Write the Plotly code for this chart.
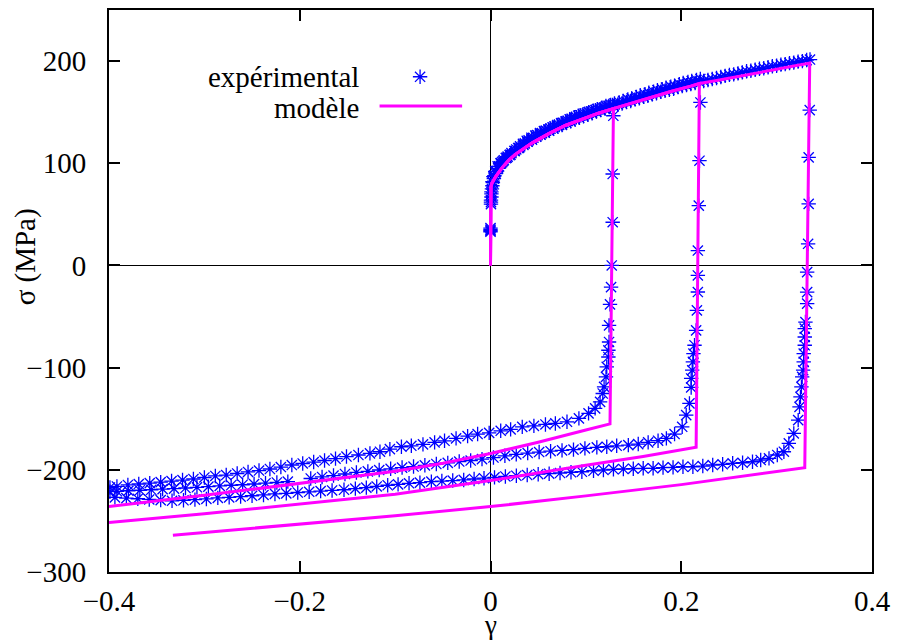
import plotly.graph_objects as go

# ---------------- experimental data (three tests) ----------------
exp1_gamma = [0, 0, 0.0005, 0.001, 0.0015, 0.0025, 0.004, 0.006, 0.009, 0.012, 0.016, 0.020, 0.025, 0.029,
              0.034, 0.038, 0.043, 0.047, 0.052, 0.056, 0.061, 0.065, 0.070, 0.074, 0.079, 0.083, 0.088,
              0.092, 0.097, 0.101, 0.106, 0.110, 0.115, 0.119, 0.124, 0.128,
              0.1288, 0.1281, 0.1281, 0.1271, 0.1264, 0.1253, 0.1243, 0.1243, 0.1236, 0.1236, 0.1219,
              0.1211, 0.1191, 0.1177, 0.1149, 0.1097, 0.1028, 0.0927, 0.0802, 0.068, 0.0576, 0.0455,
              0.0333, 0.0211, 0.0107, -0.0014, -0.0135, -0.024, -0.0361, -0.0482, -0.0586, -0.0708,
              -0.083, -0.0934, -0.1055, -0.1159, -0.1264, -0.1385, -0.151, -0.1625, -0.174, -0.1854,
              -0.1969, -0.2083, -0.2198, -0.2313, -0.2427, -0.2542, -0.2656, -0.2771, -0.2885, -0.3,
              -0.3115, -0.3229, -0.3344, -0.3458, -0.3573, -0.3688, -0.3802, -0.3917, -0.399]
exp1_sigma = [33, 36.5, 62, 67, 75, 81, 88, 92, 97, 101, 105, 108, 112, 115,
              119, 122, 125, 127, 129.5, 131.5, 133, 135, 137.5, 139, 141, 143, 145,
              146.5, 148, 149, 150.5, 152, 153, 154.5, 156, 157,
              146.5, 89.5, 42.3, 0, -21.2, -38.1, -58.6, -74.9, -83, -89.6, -99.3,
              -109.1, -118.8, -125.3, -133.5, -139.9, -144.8, -149.7, -153, -154.6, -155.6, -157,
              -158, -160.4, -161.8, -163.8, -165, -167, -169.2, -171.6, -173.1, -175.1,
              -176.5, -177.4, -179.7, -182.3, -183.9, -185.5, -187, -189, -190.9, -192.4,
              -193.8, -195.3, -197.3, -199.2, -200.7, -202.1, -203.6, -205.1, -206, -207.5,
              -209, -210, -211, -212, -213, -213.9, -214.8, -216.3, -217.3]

exp2_gamma = [0, 0.0005, 0.001, 0.002, 0.0035, 0.0055, 0.008, 0.011,
              0.014, 0.018, 0.022, 0.027, 0.031, 0.036, 0.040, 0.045, 0.049, 0.054,
              0.058, 0.063, 0.067, 0.072, 0.076, 0.081, 0.085, 0.090, 0.094, 0.099,
              0.103, 0.108, 0.112, 0.117, 0.121, 0.126, 0.130, 0.135, 0.139, 0.144,
              0.148, 0.153, 0.157, 0.162, 0.166, 0.171, 0.175, 0.180, 0.184, 0.189,
              0.193, 0.198, 0.202, 0.207, 0.211, 0.216, 0.220,
              0.2201, 0.2191, 0.2184, 0.2174, 0.2174, 0.2174, 0.2164, 0.2156, 0.2139, 0.2128,
              0.2122, 0.2115, 0.2104, 0.2104, 0.2086, 0.2052, 0.201, 0.193, 0.1844, 0.1757,
              0.1653, 0.1549, 0.1445, 0.1323, 0.1219, 0.1115, 0.099, 0.087, 0.075, 0.063,
              0.051, 0.039, 0.027, 0.0151, 0.0031, -0.0089, -0.0208, -0.0328, -0.0448, -0.0568,
              -0.0688, -0.0807, -0.0927, -0.1047, -0.1167, -0.1286, -0.1406, -0.1526, -0.1646,
              -0.1766, -0.1885, -0.2125, -0.224, -0.2359, -0.2479, -0.2599, -0.2719, -0.2839,
              -0.2958, -0.3078, -0.3198, -0.3318, -0.3438, -0.3557, -0.3677, -0.3797, -0.3917,
              -0.399]
exp2_sigma = [34, 60, 70, 78, 85, 90, 95, 100,
              103, 106.5, 110, 113.5, 116.5, 119.5, 122.5, 125, 127.5, 129.5,
              132, 134, 136, 137.5, 139.5, 141.5, 143.5, 145, 147, 148.5,
              150, 151.5, 153, 154.5, 156, 157, 158.5, 159.5, 161, 162.5,
              163.5, 165, 166.5, 167.5, 169, 170, 171.5, 172.5, 174, 175,
              176, 177.5, 178.5, 179.5, 180.5, 181.5, 182.5,
              159.5, 102.5, 58.6, 14.6, -9.8, -26, -44, -63.5, -78.1, -86.2,
              -94.4, -102.5, -110.6, -119.4, -135, -146.5, -157.9, -165, -169.2, -171.5,
              -173.1, -174.8, -175.8, -176.5, -177.4, -178, -179, -180.2, -181, -181.8,
              -182.6, -183.6, -184.9, -186.3, -188, -189.5, -190.9, -191.9, -193.2, -194.3,
              -195.6, -196.8, -197.8, -199, -200.2, -201.5, -202.6, -204.1, -205.6,
              -207, -208.5, -211.6, -212.4, -213.1, -213.9, -214.6, -215.1, -215.8,
              -216.5, -217.1, -217.8, -218.4, -218.9, -219.5, -220, -220.5, -221,
              -221.4]

exp3_gamma = [0, 0.0005, 0.001, 0.002, 0.003, 0.005, 0.0075, 0.0105,
              0.013, 0.017, 0.021, 0.0255, 0.030, 0.0345, 0.039, 0.0435, 0.048, 0.0525,
              0.057, 0.0615, 0.066, 0.0705, 0.075, 0.0795, 0.084, 0.0885, 0.093, 0.0975,
              0.102, 0.1065, 0.111, 0.1155, 0.120, 0.1245, 0.129, 0.1335, 0.138, 0.1425,
              0.147, 0.1515, 0.156, 0.1605, 0.165, 0.1695, 0.174, 0.1785, 0.183, 0.1875,
              0.192, 0.1965, 0.201, 0.2055, 0.210, 0.2145, 0.219, 0.2235, 0.228, 0.2325,
              0.237, 0.2415, 0.246, 0.2505, 0.255, 0.2595, 0.264, 0.2685, 0.273, 0.2775,
              0.282, 0.2865, 0.291, 0.2955, 0.300, 0.3045, 0.309, 0.3135, 0.318, 0.3225,
              0.327, 0.3315, 0.335,
              0.3347, 0.3336, 0.3336, 0.333, 0.332, 0.332, 0.332, 0.3302, 0.3295, 0.3295,
              0.3295, 0.3284, 0.3284, 0.3278, 0.3268, 0.326, 0.325, 0.324, 0.3226, 0.318,
              0.3128, 0.3076, 0.3007, 0.292, 0.2833, 0.2747, 0.2643, 0.2539, 0.2434, 0.233,
              0.2226, 0.2122, 0.2018, 0.1914, 0.1809, 0.1705, 0.1601, 0.1497, 0.1393, 0.1289,
              0.1184, 0.108, 0.0958, 0.0844, 0.0729, 0.0615, 0.05, 0.0385, 0.0271, 0.0156,
              0.0042, -0.0068, -0.0172, -0.0281, -0.0396, -0.051, -0.062, -0.074, -0.0854,
              -0.0969, -0.1078, -0.1193, -0.1302, -0.1417, -0.1536, -0.1661, -0.1781, -0.1901,
              -0.2021, -0.2141, -0.226, -0.238, -0.25, -0.262, -0.274, -0.2859, -0.2979,
              -0.3099, -0.3219, -0.3339, -0.3458, -0.3578, -0.3698, -0.3818, -0.3938]
exp3_sigma = [35, 64, 72, 82, 87, 92, 97, 100,
              102, 105.5, 108.5, 112, 115, 118, 121, 123, 126, 128,
              130, 132, 134, 136, 137.5, 139.5, 141, 143, 144.5, 146,
              147.5, 149, 150.5, 152, 153.5, 155, 156, 157.5, 158.5, 160,
              161, 162.5, 163.5, 165, 166, 167.5, 168.5, 170, 171, 172,
              173, 174.5, 175.5, 176.5, 177.5, 178.5, 179.5, 180.5, 181.5, 182.5,
              183.5, 184.5, 185.5, 186.5, 187, 188, 189, 190, 190.5, 191.5,
              192.5, 193, 194, 195, 195.5, 196.5, 197, 198, 198.5, 199.5,
              200, 201, 201.5,
              152, 105.8, 60.3, 21.2, -6.5, -26.1, -37.4, -55.4, -61.8, -70,
              -78.1, -86.2, -94.4, -102.5, -109.1, -118.8, -128.6, -138.4, -151.4, -164.4,
              -174.1, -182.3, -185.5, -188.8, -190.4, -192.1, -193.1, -193.6, -194.6, -195.3,
              -196.3, -197, -197, -197.6, -197.9, -198.5, -198.5, -198.9, -199.2, -199.5,
              -200.2, -200.9, -201.9, -202.4, -203.1, -203.8, -204.3, -205.1, -205.8, -206.5,
              -207.4, -208.2, -209, -209.9, -210.5, -211, -211.6, -212.5, -213.2,
              -214.2, -215.1, -216.3, -217.4, -218.4, -219.5, -220.2, -220.9, -221.5,
              -222.2, -223, -223.6, -224.6, -225.4, -226.2, -227, -227.5, -228.5,
              -229.2, -229.8, -230.3, -229.7, -229, -228.3, -227.7, -227]

# ---------------- model curves (one per test) ----------------
model1_gamma = [0, 0, 0.0005, 0.0015, 0.003, 0.0055, 0.009, 0.0125, 0.019, 0.0264, 0.0438, 0.0611,
                0.0784, 0.0958, 0.1132, 0.1289,
                0.1253, 0.1, 0.05, 0, -0.05, -0.1, -0.15, -0.2, -0.3, -0.4]
model1_sigma = [0, 72, 77, 80.5, 83.5, 87, 91.5, 96, 103, 109, 120, 129,
                137, 143, 149, 153.5,
                -155, -161, -173, -184, -193.5, -201.5, -207.5, -213, -225, -236]

model2_gamma = [0, 0, 0.0005, 0.0015, 0.003, 0.0055, 0.009, 0.0125, 0.019, 0.0264, 0.0438, 0.0611,
                0.0784, 0.0958, 0.1132, 0.1305, 0.15, 0.17, 0.19, 0.21, 0.219,
                0.2156, 0.16, 0.1, 0.05, 0, -0.1, -0.2, -0.3, -0.4]
model2_sigma = [0, 72, 77, 80.5, 83.5, 87, 91.5, 96, 103, 109, 120, 129,
                137, 143, 149, 154, 159.5, 165, 170.5, 175.5, 178,
                -178, -187, -195.5, -203, -210.5, -224, -233.5, -243, -251.5]

model3_gamma = [0, 0, 0.0005, 0.0015, 0.003, 0.0055, 0.009, 0.0125, 0.019, 0.0264, 0.0438, 0.0611,
                0.0784, 0.0958, 0.1132, 0.1305, 0.15, 0.17, 0.19, 0.21, 0.219, 0.24, 0.26, 0.28,
                0.30, 0.32, 0.3347,
                0.3295, 0.24, 0.2, 0.1, 0, -0.1, -0.2, -0.333]
model3_sigma = [0, 72, 77, 80.5, 83.5, 87, 91.5, 96, 103, 109, 120, 129,
                137, 143, 149, 154, 159.5, 165, 170.5, 175.5, 178, 181.5, 185, 188.5,
                192, 195.5, 198,
                -198, -209.5, -214.5, -225.5, -236, -245, -253, -264]

x_ticks = [-0.4, -0.2, 0, 0.2, 0.4]
y_ticks = [-300, -200, -100, 0, 100, 200]

FONT = "Liberation Serif"
BLUE = "#0000ff"
MAGENTA = "#ff00ff"

fig = go.Figure()

exp_x = exp1_gamma + exp2_gamma + exp3_gamma
exp_y = exp1_sigma + exp2_sigma + exp3_sigma
star = dict(symbol="asterisk-open", size=12, color=BLUE, line=dict(color=BLUE, width=1.3))

fig.add_trace(go.Scatter(
    x=exp_x, y=exp_y, mode="markers", name="expérimental",
    marker=star, showlegend=False, hoverinfo="skip"))

mod_x = model1_gamma + [None] + model2_gamma + [None] + model3_gamma
mod_y = model1_sigma + [None] + model2_sigma + [None] + model3_sigma
fig.add_trace(go.Scatter(
    x=mod_x, y=mod_y, mode="lines", name="modèle",
    line=dict(color=MAGENTA, width=3), connectgaps=False,
    showlegend=False, hoverinfo="skip"))

# key samples drawn in an overlaid unit-square axis
fig.add_trace(go.Scatter(
    x=[0.4077], y=[0.8812], mode="markers", xaxis="x2", yaxis="y2",
    marker=star, showlegend=False, hoverinfo="skip"))
fig.add_trace(go.Scatter(
    x=[0.3546, 0.4628], y=[0.8293, 0.8293], mode="lines", xaxis="x2", yaxis="y2",
    line=dict(color=MAGENTA, width=3), showlegend=False, hoverinfo="skip"))

axis_common = dict(
    showgrid=False, showline=True, linecolor="black", linewidth=2,
    mirror="ticks", ticks="inside", ticklen=11, tickwidth=1.5, tickcolor="black",
    zeroline=True, zerolinecolor="black", zerolinewidth=1,
    tickfont=dict(family=FONT, size=29, color="black"),
)

fig.update_layout(
    width=899, height=644,
    margin=dict(l=109, r=23, t=8, b=72),
    paper_bgcolor="white", plot_bgcolor="white",
    showlegend=False,
    font=dict(family=FONT, color="black"),
    xaxis=dict(range=[-0.4, 0.4], tickvals=x_ticks, ticklabelstandoff=2, **axis_common),
    yaxis=dict(range=[-300, 250], tickvals=y_ticks, ticklabelstandoff=15, **axis_common),
    xaxis2=dict(overlaying="x", anchor="y2", range=[0, 1], visible=False),
    yaxis2=dict(overlaying="y", anchor="x2", range=[0, 1], visible=False),
    annotations=[
        dict(text="expérimental", xref="paper", yref="paper", x=0.33, y=0.881,
             xanchor="right", yanchor="middle", showarrow=False,
             font=dict(family=FONT, size=29, color="black")),
        dict(text="modèle", xref="paper", yref="paper", x=0.33, y=0.826,
             xanchor="right", yanchor="middle", showarrow=False,
             font=dict(family=FONT, size=29, color="black")),
        dict(text="σ (MPa)", xref="paper", yref="paper", x=-0.11, y=0.56,
             xanchor="center", yanchor="middle", textangle=-90, showarrow=False,
             font=dict(family=FONT, size=29, color="black")),
        dict(text="γ", xref="paper", yref="paper", x=0.5, y=-0.094,
             xanchor="center", yanchor="middle", showarrow=False,
             font=dict(family=FONT, size=27, color="black")),
    ],
)

fig.write_html("out.html")
